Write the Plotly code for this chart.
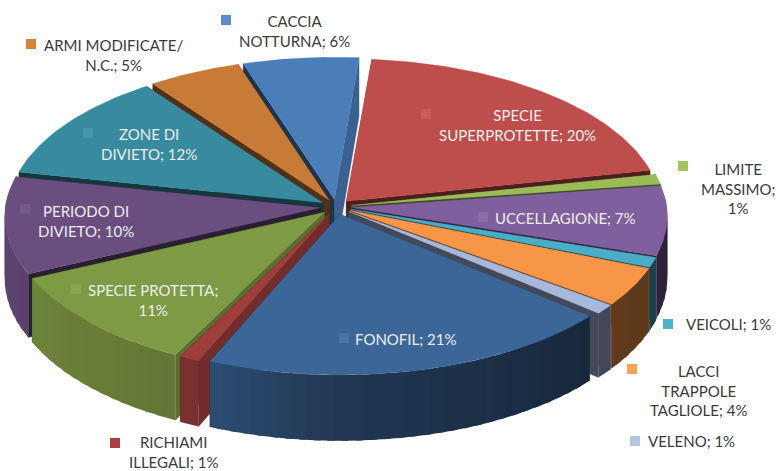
import numpy as np
import plotly.graph_objects as go

# ---- data ----
categories = ["SPECIE<br>SUPERPROTETTE", "LIMITE<br>MASSIMO", "UCCELLAGIONE", "VEICOLI",
              "LACCI<br>TRAPPOLE<br>TAGLIOLE", "VELENO", "FONOFIL", "RICHIAMI<br>ILLEGALI",
              "SPECIE PROTETTA", "PERIODO DI<br>DIVIETO", "ZONE DI<br>DIVIETO",
              "ARMI MODIFICATE/<br>N.C.", "CACCIA<br>NOTTURNA"]
values = [20, 1, 7, 1, 4, 1, 21, 1, 11, 10, 12, 5, 6]
label_breaks = [" ", "<br>", " ", " ", " ", " ", " ", " ", "<br>", " ", " ", " ", " "]

# ---- styles ----
slice_colors = ["#BE4E4B", "#9BBB59", "#7F5F9E", "#4BACC6", "#F79646", "#A8B8DC", "#3C6698",
                "#9E3F3C", "#7F9A45", "#694E7F", "#388A9F", "#C87A37", "#4B7DB8"]
key_colors = ["#C95C5A", "#A2C65A", "#8B6BAB", "#4FB3CE", "#FBA354", "#B4C4E4", "#4873A6",
              "#A64240", "#8BA651", "#745A8B", "#4595AB", "#D6823C", "#5A8BCC"]
label_x = [517, 738, 565, 728, 698, 691, 405, 173, 153, 86, 149, 113, 294]
label_y = [125, 188, 218, 324, 390, 441, 339, 451.5, 300, 221, 144, 55, 31]
key_x = [426, 683, 483, 668, 632, 635, 344, 115, 76, 25, 88, 31, 226]
key_y = [114, 166, 217, 324, 369, 441, 338, 443, 289, 209, 133, 44, 20]
inside = [True, False, True, False, False, False, True, False, True, True, True, False, False]

START = 5.0
CX, CY, RX, RY, P, EXPL, DEPTH = 336.0, 207.0, 315.0, 151.0, 0.055, 0.05, 62.0


def project(u, v, drop=0.0):
    s = 1.0 / (1.0 + P * v)
    return CX + RX * u * s, CY - RY * v * s + drop * s


def shade(hex_color, f):
    r, g, b = (int(hex_color[i:i + 2], 16) for i in (1, 3, 5))
    return f"rgb({int(r * f)},{int(g * f)},{int(b * f)})"


def wall_factor(deg):
    return float(np.interp(deg % 360, [90, 130, 180, 205, 240, 280], [.36, .40, .55, .77, .85, .88]))


def warp(deg):
    # the viewing angle pulls parts of the disc round a little
    return (deg + 3.0 * np.exp(-((deg - 125.0) / 45.0) ** 2)
            - 1.5 * np.exp(-((deg - 246.0) / 25.0) ** 2)
            - 1.5 * np.exp(-((deg - 332.0) / 25.0) ** 2))


fig = go.Figure()


def poly(xs, ys, color, width=0.6):
    fig.add_trace(go.Scatter(x=list(xs), y=list(ys), mode="lines", fill="toself", fillcolor=color,
                             line=dict(color=color, width=width), hoverinfo="skip", showlegend=False))


edges = START + np.concatenate([[0], np.cumsum(values)]) * 3.6
mids = (edges[:-1] + edges[1:]) / 2
order = np.argsort(-np.cos(np.radians(mids)))

for i in order:
    a0, a1, m = edges[i], edges[i + 1], np.radians(mids[i])
    ou, ov = EXPL * np.sin(m), EXPL * np.cos(m)
    color = slice_colors[i]

    def rim(deg):
        t = np.radians(warp(deg))
        return ou + np.sin(t), ov + np.cos(t)

    # radial cut walls: the wall that faces the viewer goes last
    cuts = [(a0, .72 if (a0 % 360) < 230 else .40), (a1, .78 if (a1 % 360) < 30 else .40)]
    if mids[i] > 180:
        cuts = cuts[::-1]
    for deg, f in cuts:
        u, v = rim(deg)
        xa, ya = project(ou, ov)
        xb, yb = project(u, v)
        xc, yc = project(u, v, DEPTH)
        xd, yd = project(ou, ov, DEPTH)
        poly([xa, xb, xc, xd, xa], [ya, yb, yc, yd, ya], shade(color, f), 0.3)

    # outer wall, split in narrow facets for the gradient
    n = max(2, int((a1 - a0) / 2.5) + 1)
    grid = np.linspace(a0, a1, n)
    step = grid[1] - grid[0]
    for d0, d1 in zip(grid[:-1], grid[1:]):
        if np.cos(np.radians((d0 + d1) / 2)) > 0.1:
            continue
        # each facet runs on under the next one, so no seam shows between them
        d1x = min(d1 + step * 0.5, a1)
        u0, v0 = rim(d0)
        u1, v1 = rim(d1x)
        p0, p1 = project(u0, v0), project(u1, v1)
        p2, p3 = project(u1, v1, DEPTH), project(u0, v0, DEPTH)
        poly([p0[0], p1[0], p2[0], p3[0], p0[0]], [p0[1], p1[1], p2[1], p3[1], p0[1]],
             shade(color, wall_factor((d0 + d1) / 2)), 0)

    # top face
    arc = np.linspace(a0, a1, max(3, int(a1 - a0) + 2))
    us, vs = rim(arc)
    us = np.concatenate([[ou], us, [ou]])
    vs = np.concatenate([[ov], vs, [ov]])
    xs, ys = project(us, vs)
    poly(xs, ys, color, 0.3)

# legend keys next to labels
fig.add_trace(go.Scatter(x=key_x, y=key_y, mode="markers",
                         marker=dict(symbol="square", size=10, color=key_colors, line=dict(width=0)),
                         hoverinfo="skip", showlegend=False))

for name, val, brk, x, y, ins in zip(categories, values, label_breaks, label_x, label_y, inside):
    fig.add_annotation(x=x, y=y, text=f"{name};{brk}{val}%", showarrow=False, align="center",
                       xanchor="center", yanchor="middle",
                       font=dict(family="Lato", size=15, color="#EDEDED" if ins else "#3A3A3A"))

fig.update_layout(width=776, height=471, margin=dict(l=0, r=0, t=0, b=0),
                  paper_bgcolor="white", plot_bgcolor="white", showlegend=False,
                  xaxis=dict(range=[0, 776], visible=False, fixedrange=True),
                  yaxis=dict(range=[471, 0], visible=False, fixedrange=True))
fig.write_html("out.html", config=dict(displayModeBar=False),
               post_script="document.body.style.margin='0';document.documentElement.style.overflow='hidden';")
